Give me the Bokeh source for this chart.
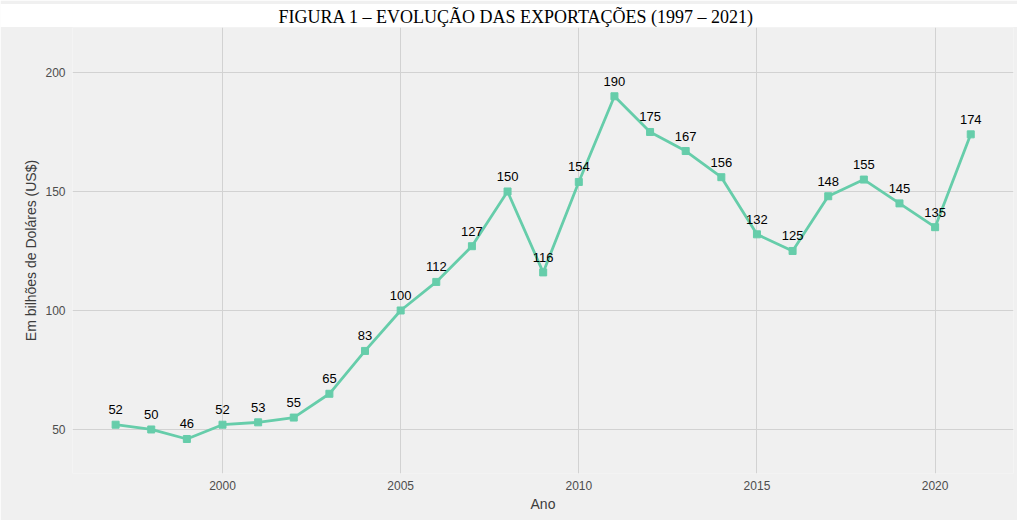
from bokeh.plotting import figure
from bokeh.models import Range1d, FixedTicker, ColumnDataSource, Title
from bokeh.core.properties import value
from bokeh.embed import file_html
from bokeh.resources import INLINE

# ---- data ----
years = [1997, 1998, 1999, 2000, 2001, 2002, 2003, 2004, 2005, 2006, 2007, 2008, 2009,
         2010, 2011, 2012, 2013, 2014, 2015, 2016, 2017, 2018, 2019, 2020, 2021]
exports = [52, 50, 46, 52, 53, 55, 65, 83, 100, 112, 127, 150, 116,
           154, 190, 175, 167, 156, 132, 125, 148, 155, 145, 135, 174]
labels = [str(v) for v in exports]
x_ticks = [2000, 2005, 2010, 2015, 2020]
y_ticks = [50, 100, 150, 200]
title_text = "FIGURA 1 – EVOLUÇÃO DAS EXPORTAÇÕES (1997 – 2021)"
x_title = "Ano"
y_title = "Em bilhões de Doláres (US$)"

BG = "#F0F0F0"
GRID = "#D2D2D2"
LINE = "#66CDAA"
SANS = "Liberation Sans"

src = ColumnDataSource(dict(x=years, y=exports, t=labels))
ttl = Title(text=title_text, align="left", offset=-72, standoff=1,
            text_font="Liberation Serif", text_font_size="18px",
            text_font_style="normal", text_color="black",
            background_fill_color="white",
            padding=dict(left=278, right=320, top=3, bottom=0))
p = figure(width=1017, height=520, x_range=Range1d(1995.79, 2022.2),
           y_range=Range1d(31.5, 218.9), toolbar_location=None, output_backend="svg",
           title=ttl,
           min_border_top=27, min_border_left=72, min_border_right=4, min_border_bottom=47)
p.background_fill_color = BG
p.border_fill_color = BG
p.outline_line_color = None

for ax in (p.xaxis[0], p.yaxis[0]):
    ax.axis_line_color = None
    ax.major_tick_line_color = None
    ax.minor_tick_line_color = None
    ax.major_tick_out = 0
    ax.major_tick_in = 0
    ax.major_label_text_font = SANS
    ax.major_label_text_font_size = "12px"
    ax.major_label_text_color = "#4D4D4D"
    ax.axis_label_text_font = SANS
    ax.axis_label_text_font_size = "14px"
    ax.axis_label_text_font_style = "normal"
    ax.axis_label_text_color = "#3C3C3C"
    ax.major_label_standoff = 7
    ax.axis_label_standoff = 3

p.xaxis.ticker = FixedTicker(ticks=x_ticks)
p.yaxis.ticker = FixedTicker(ticks=y_ticks)
p.xaxis.axis_label = x_title
p.yaxis.axis_label = y_title

p.xgrid.grid_line_color = GRID
p.ygrid.grid_line_color = GRID
p.xgrid.grid_line_width = 1
p.ygrid.grid_line_width = 1

p.line("x", "y", source=src, line_color=LINE, line_width=2.8)
p.scatter("x", "y", source=src, marker="square", size=7, fill_color=LINE, line_color=LINE)
p.text("x", "y", text="t", source=src, text_align="center", text_baseline="alphabetic",
       y_offset=-15, text_font=value(SANS), text_font_size="13px", text_color="black")

open("out.html", "w").write(file_html(p, INLINE))
